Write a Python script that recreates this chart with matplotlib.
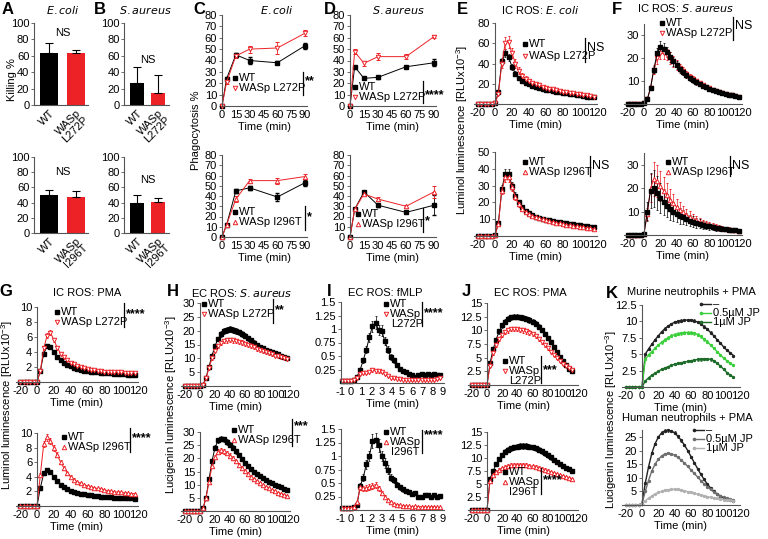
import matplotlib.pyplot as plt
from matplotlib.lines import Line2D

plt.rcParams['font.family'] = ['Liberation Sans Narrow', 'Liberation Sans', 'DejaVu Sans']
plt.rcParams['axes.unicode_minus'] = False
plt.rcParams['mathtext.fontset'] = 'custom'
plt.rcParams['mathtext.rm'] = 'Liberation Sans Narrow'
plt.rcParams['mathtext.it'] = 'Liberation Sans Narrow:italic'
plt.rcParams['mathtext.default'] = 'regular'

# ---------------- data ----------------
genotypes_l = ['WT', 'WASp\nL272P']
genotypes_i = ['WT', 'WASp\nI296T']

kill_ecoli_l = [63, 64]
kill_ecoli_l_err = [12, 3]
kill_ecoli_i = [50, 47]
kill_ecoli_i_err = [7, 8]
kill_saur_l = [27, 15]
kill_saur_l_err = [19, 21]
kill_saur_i = [39, 41]
kill_saur_i_err = [11, 5]

t_phago = [0, 5, 15, 30, 60, 90]
phc_top_wt = [0, 24, 45, 40, 38, 53]
phc_top_wt_err = [0, 1.5, 2, 3, 1.5, 2.5]
phc_top_mut = [0, 21, 44, 50, 51, 64]
phc_top_mut_err = [0, 1.5, 2, 3, 5, 2.5]
phc_bot_wt = [0, 12, 45, 48, 39, 53]
phc_bot_wt_err = [0, 1, 2, 2, 4, 3]
phc_bot_mut = [0, 12, 37, 55, 55, 59]
phc_bot_mut_err = [0, 1, 3, 2, 3, 2]
phd_top_wt = [0, 34.5, 24.3, 25.2, 34.5, 38]
phd_top_wt_err = [0, 1, 1, 1.5, 1, 3]
phd_top_mut = [0, 47.7, 37.5, 43.4, 43.4, 61]
phd_top_mut_err = [0, 2, 2, 3, 2, 1]
phd_bot_wt = [0, 27, 44, 31, 24, 31]
phd_bot_wt_err = [0, 1, 1, 1.5, 1, 10]
phd_bot_mut = [0, 27, 42, 37, 30, 44]
phd_bot_mut_err = [0, 1, 1, 2, 1, 6]

t_ros = list(range(-20, 117, 4))
e_top_wt = [0, 0, 0, 0, 0, 0.5, 12, 42, 50, 46, 37, 30, 26, 23, 21, 19.5, 18, 17, 16, 15,
            14.2, 13.5, 12.8, 12.2, 11.6, 11, 10.4, 9.9, 9.4, 8.9, 8.4, 7.9, 7.4, 7, 6.5]
e_top_mut = [0, 0, 0, 0, 0, 0.5, 10, 40, 60, 61, 50, 40, 33, 28, 25, 22.5, 21, 19.5, 18.3, 17.2,
             16.2, 15.3, 14.5, 13.7, 13, 12.3, 11.7, 11.1, 10.5, 10, 9.4, 8.9, 8.4, 7.9, 7.4]
e_bot_wt = [0, 0, 0, 0, 0, 0.5, 8, 28, 37, 37, 30, 24, 20, 17, 15, 13.5, 12.5, 11.6, 10.9, 10.3,
            9.8, 9.3, 8.9, 8.5, 8.1, 7.8, 7.5, 7.2, 6.9, 6.6, 6.3, 6, 5.7, 5.4, 5.2]
e_bot_mut = [0, 0, 0, 0, 0, 0.5, 7, 27, 35, 35, 29, 23, 19, 16, 14.5, 13, 12, 11.2, 10.5, 9.9,
             9.3, 8.8, 8.3, 7.9, 7.5, 7.1, 6.7, 6.3, 6, 5.7, 5.4, 5.1, 4.8, 4.5, 4.3]
f_top_wt = [0, 0, 0, 0, 0, 0.3, 2, 7, 15, 22, 25, 24, 22.5, 20.5, 18.5, 16.8, 15.2, 13.8, 12.5, 11.3,
            10.3, 9.4, 8.6, 7.9, 7.2, 6.6, 6, 5.5, 5.1, 4.7, 4.3, 4, 3.7, 3.4, 3.1]
f_top_mut = [0, 0, 0, 0, 0, 0.3, 2, 7, 15, 20, 22, 22, 21.5, 20, 18.5, 17, 15.6, 14.2, 13, 11.8,
             10.8, 9.8, 9, 8.2, 7.5, 6.9, 6.3, 5.8, 5.3, 4.9, 4.5, 4.1, 3.8, 3.5, 3.2]
f_bot_wt = [0, 0, 0, 0, 0, 0.5, 10, 19, 20, 18, 16, 14, 12.5, 11, 10, 9, 8.2, 7.5, 6.8, 6.2,
            5.7, 5.2, 4.8, 4.4, 4, 3.7, 3.4, 3.1, 2.9, 2.7, 2.5, 2.3, 2.1, 2, 1.8]
f_bot_mut = [0, 0, 0, 0, 0, 0.5, 9, 20, 24, 23, 21, 19, 17, 15, 13.5, 12, 10.8, 9.7, 8.7, 7.8,
             7, 6.3, 5.7, 5.1, 4.6, 4.2, 3.8, 3.5, 3.2, 2.9, 2.7, 2.5, 2.3, 2.1, 1.9]
g_top_wt = [0, 0, 0, 0, 0, 0, 1.5, 3.8, 4.8, 4.7, 4.0, 3.4, 3.0, 2.6, 2.3, 2.1, 1.9, 1.75, 1.6, 1.5,
            1.45, 1.4, 1.35, 1.3, 1.25, 1.2, 1.2, 1.15, 1.1, 1.1, 1.05, 1.05, 1.0, 1.0, 1.0]
g_top_mut = [0, 0, 0, 0, 0, 0, 1.5, 4.5, 6.2, 6.6, 5.6, 4.6, 3.8, 3.3, 2.9, 2.6, 2.35, 2.15, 2.0, 1.85,
             1.75, 1.65, 1.6, 1.5, 1.45, 1.4, 1.4, 1.35, 1.3, 1.3, 1.3, 1.25, 1.25, 1.2, 1.2]
g_bot_wt = [0, 0, 0, 0, 0, 0, 2.5, 4.5, 5.0, 4.7, 4.0, 3.4, 2.9, 2.6, 2.3, 2.1, 1.95, 1.8, 1.7, 1.6,
            1.5, 1.45, 1.4, 1.35, 1.3, 1.25, 1.2, 1.2, 1.15, 1.1, 1.1, 1.1, 1.05, 1.05, 1.0]
g_bot_mut = [0, 0, 0, 0, 0, 0, 4.3, 8.5, 9.4, 8.9, 8.0, 7.0, 6.0, 5.2, 4.5, 4.0, 3.6, 3.3, 3.1, 2.9,
             2.75, 2.6, 2.5, 2.4, 2.3, 2.2, 2.1, 2.0, 1.95, 1.9, 1.85, 1.8, 1.75, 1.7, 1.7]
h_top_wt = [0, 0, 0, 0, 0, 0, 0.5, 3, 7, 11, 14.5, 17, 18.8, 19.8, 20.3, 20.5, 20.3, 19.9, 19.4, 18.8,
            18.1, 17.3, 16.5, 15.7, 14.9, 14.2, 13.6, 13.1, 12.6, 12.2, 11.8, 11.4, 11, 10.6, 10.2]
h_top_mut = [0, 0, 0, 0, 0, 0, 0.5, 2.8, 6.5, 10, 12.8, 14.5, 15.6, 16.2, 16.5, 16.6, 16.5, 16.3, 16, 15.7,
             15.3, 14.9, 14.5, 14, 13.5, 13, 12.6, 12.2, 11.8, 11.4, 11, 10.7, 10.4, 10.1, 9.8]
h_bot_wt = [0, 0, 0, 0, 0, 0, 1, 5, 12, 19, 24, 26.8, 27.5, 27.2, 26.3, 25.2, 24, 22.6, 21.2, 19.8,
            18.4, 17.2, 16, 15, 14, 13.2, 12.5, 11.8, 11.2, 10.6, 10, 9.5, 9, 8.5, 8]
h_bot_mut = [0, 0, 0, 0, 0, 0, 1, 5, 11, 17, 20.5, 22.5, 23, 22.7, 22, 21, 20, 18.8, 17.6, 16.4,
             15.2, 14.1, 13.1, 12.2, 11.3, 10.5, 9.8, 9.2, 8.6, 8, 7.5, 7, 6.6, 6.2, 5.8]

t_fmlp = [round(-0.9 + 0.3 * i, 1) for i in range(33)]
i_top_wt = [0.04, 0.04, 0.04, 0.04, 0.05, 0.12, 0.25, 0.42, 0.62, 0.85, 1.05, 1.12, 0.98, 0.97, 0.78,
            0.62, 0.48, 0.42, 0.33, 0.26, 0.22, 0.2, 0.16, 0.15, 0.12, 0.14, 0.16, 0.15, 0.17, 0.15,
            0.16, 0.14, 0.15]
i_top_mut = [0.04, 0.04, 0.04, 0.04, 0.05, 0.1, 0.17, 0.18, 0.19, 0.2, 0.24, 0.22, 0.22, 0.2, 0.16,
             0.13, 0.1, 0.09, 0.08, 0.07, 0.06, 0.06, 0.06, 0.05, 0.06, 0.05, 0.06, 0.05, 0.06, 0.06,
             0.05, 0.07, 0.09]
i_bot_wt = [0.04, 0.04, 0.04, 0.04, 0.05, 0.1, 0.45, 0.6, 0.85, 1.0, 1.28, 1.3, 1.2, 1.0, 0.87,
            0.75, 0.6, 0.55, 0.47, 0.42, 0.38, 0.35, 0.33, 0.3, 0.32, 0.25, 0.24, 0.27, 0.27, 0.25,
            0.28, 0.25, 0.26]
i_bot_mut = [0.04, 0.04, 0.04, 0.04, 0.05, 0.15, 0.42, 0.4, 0.41, 0.43, 0.45, 0.47, 0.4, 0.32, 0.25,
             0.19, 0.15, 0.12, 0.1, 0.09, 0.08, 0.07, 0.07, 0.06, 0.07, 0.06, 0.06, 0.06, 0.05, 0.06,
             0.06, 0.05, 0.05]

t_pma = list(range(-20, 113, 4))
j_top_wt = [0, 0, 0, 0, 0, 0, 4, 6.5, 8.3, 9.8, 10.9, 11.6, 12.1, 12.4, 12.5, 12.5, 12.4, 12.3, 12.1,
            11.9, 11.6, 11.2, 10.7, 10.1, 9.4, 8.6, 7.8, 6.9, 6, 5.1, 4.3, 3.6, 3.0, 2.5]
j_top_mut = [0, 0, 0, 0, 0, 0, 3.5, 5.8, 7.3, 8.4, 9.2, 9.7, 10, 10.2, 10.2, 10.2, 10.1, 10, 9.8,
             9.6, 9.3, 8.9, 8.4, 7.9, 7.3, 6.7, 6.1, 5.5, 4.9, 4.4, 3.9, 3.5, 3.1, 2.8]
j_bot_wt = [0, 0, 0, 0, 0, 0, 6, 7.5, 8.8, 9.8, 10.6, 11.2, 11.6, 11.9, 12.1, 12.2, 12.3, 12.3, 12.3,
            12.2, 12.1, 11.9, 11.6, 11.3, 10.9, 10.5, 10.1, 9.7, 9.3, 8.9, 8.5, 8.1, 7.8, 7.5]
j_bot_mut = [0, 0, 0, 0, 0, 0, 5.5, 6.8, 7.3, 7.7, 8, 8.3, 8.5, 8.6, 8.7, 8.7, 8.7, 8.7, 8.6,
             8.5, 8.4, 8.3, 8.1, 7.9, 7.7, 7.5, 7.3, 7.1, 6.9, 6.7, 6.5, 6.3, 6.1, 5.9]
k_mur_ctrl = [0, 0, 0, 0, 0, 0, 5.0, 5.8, 6.5, 7.2, 7.8, 8.4, 8.9, 9.3, 9.6, 9.9, 10.0, 10.1, 10.2,
              10.2, 10.2, 10.1, 9.9, 9.6, 9.2, 8.8, 8.3, 7.8, 7.2, 6.7, 6.1, 5.6, 5.2, 4.8]
k_mur_05 = [0, 0, 0, 0, 0, 0, 4.2, 4.9, 5.4, 5.9, 6.4, 6.8, 7.2, 7.5, 7.8, 8.0, 8.1, 8.2, 8.3,
            8.3, 8.3, 8.2, 8.0, 7.7, 7.3, 6.9, 6.4, 5.9, 5.4, 4.9, 4.4, 4.0, 3.6, 3.3]
k_mur_1 = [0, 0, 0, 0, 0, 0, 0.9, 1.4, 1.8, 2.1, 2.4, 2.7, 2.9, 3.1, 3.3, 3.5, 3.6, 3.7, 3.8,
           3.9, 4.0, 4.1, 4.2, 4.2, 4.3, 4.3, 4.2, 4.0, 3.6, 3.2, 2.7, 2.2, 1.8, 1.5]
k_hum_ctrl = [0, 0, 0, 0, 0, 0.5, 8, 14, 19, 22.5, 25, 26.5, 27.3, 27.5, 27.2, 26.5, 25.3, 23.8, 22,
              20, 17.8, 15.6, 13.4, 11.3, 9.4, 7.7, 6.2, 5, 4, 3.2, 2.6, 2.1, 1.7, 1.5]
k_hum_05 = [0, 0, 0, 0, 0, 0.5, 5, 9, 12.5, 15, 16.8, 18, 18.8, 19, 18.8, 18.3, 17.5, 16.5, 15.4,
            14.2, 12.9, 11.6, 10.3, 9.0, 7.8, 6.7, 5.7, 4.8, 4.0, 3.4, 2.9, 2.4, 2.1, 1.9]
k_hum_1 = [0, 0, 0, 0, 0, 0.5, 1.5, 2.5, 3.3, 4, 4.6, 5, 5.4, 5.6, 5.8, 5.8, 5.7, 5.5, 5.2,
           4.9, 4.6, 4.3, 4.0, 3.7, 3.4, 3.1, 2.8, 2.6, 2.4, 2.2, 2.0, 1.9, 1.7, 1.6]

# ---------------- figure ----------------
W, H = 768, 539
fig = plt.figure(figsize=(W / 100, H / 100), dpi=100)
RED = '#ec2227'
FS = 8


def make_ax(xlim, xcal, ylim, ycal, spine_x=None):
    # xcal / ycal: two (data value, pixel) pairs, pixels measured from the top-left
    (xa, pxa), (xb, pxb) = xcal
    (ya, pya), (yb, pyb) = ycal
    sx = (pxb - pxa) / (xb - xa)
    sy = (pyb - pya) / (yb - ya)
    left = pxa + (xlim[0] - xa) * sx
    right = pxa + (xlim[1] - xa) * sx
    top = pya + (ylim[1] - ya) * sy
    bottom = pya + (ylim[0] - ya) * sy
    ax = fig.add_axes([left / W, 1 - bottom / H, (right - left) / W, (bottom - top) / H])
    ax.set_xlim(xlim)
    ax.set_ylim(ylim)
    ax.patch.set_alpha(0)
    for s in ['top', 'right']:
        ax.spines[s].set_visible(False)
    for s in ['left', 'bottom']:
        ax.spines[s].set_color('#555555')
        ax.spines[s].set_linewidth(0.8)
    if spine_x is not None:
        ax.spines['left'].set_position(('data', spine_x))
    ax.tick_params(axis='y', length=2.5, width=0.6, pad=1, labelsize=FS, color='#555555')
    ax.tick_params(axis='x', length=0, pad=3, labelsize=FS)
    return ax


def px(x, y):
    return x / W, 1 - y / H


def key(x, y, label, **mk):
    fig.add_artist(Line2D([px(x, y)[0]], [px(x, y)[1]], transform=fig.transFigure, ls='none', **mk))
    fig.text(*px(x + 4, y), label, va='center', ha='left', fontsize=FS)


def sig(x, y0, y1, stars, yt=None):
    fig.add_artist(Line2D([x / W, x / W], [1 - y0 / H, 1 - y1 / H], transform=fig.transFigure,
                          color='black', lw=0.9))
    yt = (y0 + y1) / 2 if yt is None else yt
    bold = 'bold' if '*' in stars else 'normal'
    fig.text(*px(x + 2, yt), stars, va='center', ha='left', fontsize=FS + 1, fontweight=bold)


WT_MK = dict(marker='s', color='black', ms=2.3)
L_MK = dict(marker='v', color=RED, mfc='white', mec=RED, ms=3.2, mew=0.7)
I_MK = dict(marker='^', color=RED, mfc='white', mec=RED, ms=3.2, mew=0.7)


def curve(ax, t, y, frac, mk, lw=0.7):
    err = [v * frac for v in y]
    ax.errorbar(t, y, yerr=err, lw=lw, elinewidth=0.5, capsize=1, capthick=0.5,
                clip_on=False, **mk)


def bars(ax, vals, errs, labels):
    xs = [0, 1]
    ax.bar(xs, vals, width=0.68, color=['black', RED], zorder=2)
    ax.errorbar(xs, vals, yerr=[[0, 0], errs], fmt='none', ecolor='black', elinewidth=0.8,
                capsize=3, capthick=0.8)
    ax.set_xticks(xs)
    ax.set_xticklabels(labels, rotation=45, ha='right', rotation_mode='anchor', fontsize=FS,
                       linespacing=0.95)
    ax.set_yticks(range(0, 101, 20))
    ax.tick_params(axis='x', pad=2)


# ---- A / B: killing ----
axA1 = make_ax((-0.55, 1.45), ((0, 49), (1, 76)), (0, 100), ((100, 23), (0, 105)))
bars(axA1, kill_ecoli_l, kill_ecoli_l_err, genotypes_l)
axA1.text(0.5, 88, 'NS', ha='center', va='center', fontsize=FS)
axA2 = make_ax((-0.55, 1.45), ((0, 49), (1, 76)), (0, 100), ((100, 157), (0, 233)))
bars(axA2, kill_ecoli_i, kill_ecoli_i_err, genotypes_i)
axA2.text(0.5, 80, 'NS', ha='center', va='center', fontsize=FS)
axB1 = make_ax((-0.6, 1.5), ((0, 137), (1, 158)), (0, 100), ((100, 23), (0, 105)))
bars(axB1, kill_saur_l, kill_saur_l_err, genotypes_l)
axB1.text(0.5, 55, 'NS', ha='center', va='center', fontsize=FS)
axB2 = make_ax((-0.6, 1.5), ((0, 137), (1, 158)), (0, 100), ((100, 157), (0, 233)))
bars(axB2, kill_saur_i, kill_saur_i_err, genotypes_i)
axB2.text(0.5, 70, 'NS', ha='center', va='center', fontsize=FS)
fig.text(*px(12, 80), 'Killing %', rotation=90, ha='center', va='center', fontsize=FS)

# ---- C / D: phagocytosis ----
for x0, x90, tops, bots in [
        (222, 305, (phc_top_wt, phc_top_wt_err, phc_top_mut, phc_top_mut_err),
         (phc_bot_wt, phc_bot_wt_err, phc_bot_mut, phc_bot_mut_err)),
        (350, 434, (phd_top_wt, phd_top_wt_err, phd_top_mut, phd_top_mut_err),
         (phd_bot_wt, phd_bot_wt_err, phd_bot_mut, phd_bot_mut_err))]:
    for (ytop, ybot), data, mut_mk in [((15, 106), tops, L_MK), ((155, 237), bots, I_MK)]:
        ax = make_ax((0, 92), ((0, x0), (90, x90)), (0, 80), ((80, ytop), (0, ybot)))
        wt, wt_e, mu, mu_e = data
        ax.errorbar(t_phago, wt, yerr=wt_e, lw=0.7, elinewidth=0.6, capsize=1.2, clip_on=False, **WT_MK)
        ax.errorbar(t_phago, mu, yerr=mu_e, lw=0.7, elinewidth=0.6, capsize=1.2, clip_on=False, **mut_mk)
        ax.set_xticks(range(0, 91, 15))
        ax.set_yticks(range(0, 81, 10))
        ax.tick_params(axis='x', pad=3)
        ax.set_xlabel('Time (min)', fontsize=FS, labelpad=1)
fig.text(*px(196, 130), 'Phagocytosis %', rotation=90, ha='center', va='center', fontsize=FS)

key(235, 78, 'WT', **WT_MK)
key(235, 88, 'WASp L272P', **L_MK)
sig(303, 72, 95, '**', 81)
key(235, 212, 'WT', **WT_MK)
key(235, 222, 'WASp I296T', **I_MK)
sig(305, 206, 230, '*', 217)
key(355, 87, 'WT', **WT_MK)
key(355, 97, 'WASp L272P', **L_MK)
sig(423, 81, 103, '****', 95)
key(358, 214, 'WT', **WT_MK)
key(358, 224, 'WASp I296T', **I_MK)
sig(423, 208, 232, '*', 221)


# ---- E .. K: time courses ----
def ros_ax(x0, x120, ylim, ycal, yticks, yticklabels=None):
    ax = make_ax((-25, 120), ((0, x0), (120, x120)), ylim, ycal, spine_x=0)
    ax.set_xticks(range(-20, 121, 20))
    ax.set_yticks(yticks)
    if yticklabels is not None:
        ax.set_yticklabels(yticklabels)
    ax.set_xlabel('Time (min)', fontsize=FS, labelpad=1)
    return ax


axE1 = ros_ax(495, 597, (0, 80), ((80, 23), (0, 104)), [20, 40, 60, 80])
curve(axE1, t_ros, e_top_wt, 0.08, WT_MK)
curve(axE1, t_ros, e_top_mut, 0.1, L_MK)
axE2 = ros_ax(495, 597, (0, 50), ((50, 152), (0, 236)), [10, 20, 30, 40, 50])
curve(axE2, t_ros, e_bot_wt, 0.08, WT_MK)
curve(axE2, t_ros, e_bot_mut, 0.08, I_MK)
key(525, 44, 'WT', **WT_MK)
key(525, 56, 'WASp L272P', **L_MK)
sig(585, 38, 62, 'NS', 48)
key(525, 162, 'WT', **WT_MK)
key(525, 172, 'WASp I296T', **I_MK)
sig(590, 156, 176, 'NS', 166)

axF1 = ros_ax(644, 742, (0, 35), ((30, 35), (0, 104)), [10, 20, 30])
curve(axF1, t_ros, f_top_mut, 0.12, L_MK)
curve(axF1, t_ros, f_top_wt, 0.1, WT_MK)
axF2 = ros_ax(644, 742, (0, 35), ((30, 165), (0, 235)), [10, 20, 30])
curve(axF2, t_ros, f_bot_mut, 0.3, I_MK)
curve(axF2, t_ros, f_bot_wt, 0.4, WT_MK)
key(662, 23, 'WT', **WT_MK)
key(662, 33, 'WASp L272P', **L_MK)
sig(733, 17, 40, 'NS', 26)
key(668, 162, 'WT', **WT_MK)
key(668, 172, 'WASp I296T', **I_MK)
sig(730, 156, 176, 'NS', 166)

axG1 = ros_ax(37, 138, (0, 10), ((10, 307), (0, 382)), [2, 4, 6, 8, 10])
curve(axG1, t_ros, g_top_wt, 0.05, WT_MK)
curve(axG1, t_ros, g_top_mut, 0.05, L_MK)
axG2 = ros_ax(37, 138, (0, 10), ((10, 433), (0, 506)), [2, 4, 6, 8, 10])
curve(axG2, t_ros, g_bot_wt, 0.05, WT_MK)
curve(axG2, t_ros, g_bot_mut, 0.05, I_MK)
key(57, 312, 'WT', **WT_MK)
key(57, 322, 'WASp L272P', **L_MK)
sig(124, 303, 327, '****', 314)
key(64, 437, 'WT', **WT_MK)
key(64, 447, 'WASp I296T', **I_MK)
sig(130, 428, 452, '****', 438)
fig.text(*px(7, 405), 'Luminol luminescence [RLUx10$^{-3}$]', rotation=90, ha='center', va='center', fontsize=FS)
fig.text(*px(462, 130), 'Luminol luminescence [RLUx10$^{-3}$]', rotation=90, ha='center', va='center', fontsize=FS)

axH1 = ros_ax(200, 290, (0, 30), ((30, 303), (0, 386)), [5, 10, 15, 20, 25, 30])
curve(axH1, t_ros, h_top_wt, 0.05, WT_MK)
curve(axH1, t_ros, h_top_mut, 0.05, L_MK)
axH2 = ros_ax(200, 290, (0, 30), ((30, 432), (0, 511)), [5, 10, 15, 20, 25, 30])
curve(axH2, t_ros, h_bot_wt, 0.04, WT_MK)
curve(axH2, t_ros, h_bot_mut, 0.04, I_MK)
key(204, 304, 'WT', **WT_MK)
key(204, 314, 'WASp L272P', **L_MK)
sig(273, 299, 323, '**', 310)
key(234, 430, 'WT', **WT_MK)
key(234, 440, 'WASp I296T', **I_MK)
sig(292, 419, 446, '***', 426)
fig.text(*px(171, 405), 'Lucigenin luminescence [RLUx10$^{-3}$]', rotation=90, ha='center', va='center', fontsize=FS)

for (ytop, ybot), wt, mu, mk, lab, s in [((302, 383), i_top_wt, i_top_mut, L_MK, 'L272P', (302, 326, 313)),
                                         ((429, 510), i_bot_wt, i_bot_mut, I_MK, 'I296T', (430, 453, 435))]:
    ax = make_ax((-1, 9.1), ((0, 351), (9, 443)), (0, 1.5), ((1.5, ytop), (0, ybot)))
    ax.set_xticks(range(-1, 10))
    ax.set_yticks([0.25, 0.5, 0.75, 1, 1.25, 1.5])
    ax.set_yticklabels(['0.25', '0.5', '0.75', '1', '1.25', '1.5'])
    ax.set_xlabel('Time (min)', fontsize=FS, labelpad=1)
    curve(ax, t_fmlp, wt, 0.1, WT_MK)
    curve(ax, t_fmlp, mu, 0.12, mk)
    key(386, s[0] + 2, 'WT', **WT_MK)
    key(386, s[0] + 12, 'WASp', **mk)
    fig.text(*px(391, s[0] + 22), lab, va='center', ha='left', fontsize=FS)
    sig(422, s[0], s[1], '****', s[2])

axJ1 = ros_ax(487, 578, (0, 15), ((15, 303), (0, 385)), [2.5, 5, 7.5, 10, 12.5, 15],
              ['2.5', '5', '7.5', '10', '12.5', '15'])
curve(axJ1, t_pma, j_top_wt, 0.04, WT_MK)
curve(axJ1, t_pma, j_top_mut, 0.04, L_MK)
axJ2 = ros_ax(487, 578, (0, 15), ((15, 432), (0, 510)), [2.5, 5, 7.5, 10, 12.5, 15],
              ['2.5', '5', '7.5', '10', '12.5', '15'])
curve(axJ2, t_pma, j_bot_wt, 0.04, WT_MK)
curve(axJ2, t_pma, j_bot_mut, 0.04, I_MK)
key(505, 361, 'WT', **WT_MK)
key(505, 371, 'WASp', **L_MK)
fig.text(*px(509, 381), 'L272P', va='center', ha='left', fontsize=FS)
sig(541, 356, 383, '***', 370)
key(505, 472, 'WT', **WT_MK)
key(505, 482, 'WASp', **I_MK)
fig.text(*px(509, 492), 'I296T', va='center', ha='left', fontsize=FS)
sig(541, 468, 494, '****', 480)

K_DOT = dict(marker='o', ms=1.4)
axK1 = ros_ax(642, 740, (0, 12.5), ((12.5, 305), (0, 387)), [2.5, 5, 7.5, 10, 12.5],
              ['2.5', '5', '7.5', '10', '12.5'])
curve(axK1, t_pma, k_mur_ctrl, 0.02, dict(color='#222222', **K_DOT), lw=1.0)
curve(axK1, t_pma, k_mur_05, 0.03, dict(color='#3ccf3c', **K_DOT), lw=1.0)
curve(axK1, t_pma, k_mur_1, 0.04, dict(color='#1d6b28', **K_DOT), lw=1.0)
axK2 = ros_ax(642, 740, (0, 27.5), ((25, 437), (0, 505)), [5, 10, 15, 20, 25])
curve(axK2, t_pma, k_hum_ctrl, 0.02, dict(color='#222222', **K_DOT), lw=1.0)
curve(axK2, t_pma, k_hum_05, 0.02, dict(color='#6e6e6e', **K_DOT), lw=1.0)
curve(axK2, t_pma, k_hum_1, 0.04, dict(color='#b0b0b0', **K_DOT), lw=1.0)
for y, lab, c in [(304, '\u2013', '#222222'), (313, '0.5\u00b5M JP', '#3ccf3c'), (322, '1\u00b5M JP', '#1d6b28')]:
    fig.add_artist(Line2D([701 / W, 711 / W], [1 - y / H] * 2, transform=fig.transFigure,
                          color=c, lw=1, marker='o', ms=1.6, markevery=[0]))
    fig.text(*px(713, y), lab, va='center', ha='left', fontsize=FS)
for y, lab, c in [(430, '\u2013', '#222222'), (439, '0.5\u00b5M JP', '#6e6e6e'), (448, '1\u00b5M JP', '#b0b0b0')]:
    fig.add_artist(Line2D([694 / W, 704 / W], [1 - y / H] * 2, transform=fig.transFigure,
                          color=c, lw=1, marker='o', ms=1.6, markevery=[0]))
    fig.text(*px(706, y), lab, va='center', ha='left', fontsize=FS)
fig.text(*px(611, 420), 'Lucigenin luminescence [RLUx10$^{-3}$]', rotation=90, ha='center', va='center', fontsize=FS)

# ---- panel letters and titles ----
for lab, x, y in [('A', 8, 10), ('B', 100, 10), ('C', 199, 10), ('D', 330, 10), ('E', 462, 10),
                  ('F', 617, 10), ('G', 6, 292), ('H', 173, 292), ('I', 329, 292), ('J', 466, 292),
                  ('K', 612, 293)]:
    fig.text(*px(x, y), lab, fontsize=12, fontweight='bold', ha='center', va='center',
             family=['Liberation Sans', 'DejaVu Sans'])

titles = [('$\\it{E. coli}$', 63, 10), ('$\\it{S. aureus}$', 145, 10), ('$\\it{E. coli}$', 277, 10),
          ('$\\it{S. aureus}$', 398, 10), ('IC ROS: $\\it{E. coli}$', 540, 10),
          ('IC ROS: $\\it{S. aureus}$', 686, 8), ('IC ROS: PMA', 87, 293),
          ('EC ROS: $\\it{S. aureus}$', 242, 293), ('EC ROS: fMLP', 385, 293),
          ('EC ROS: PMA', 530, 293), ('Murine neutrophils + PMA', 691, 292),
          ('Human neutrophils + PMA', 687, 418)]
for txt, x, y in titles:
    fig.text(*px(x, y), txt, ha='center', va='center', fontsize=FS)

fig.savefig('out.png', dpi=100)
